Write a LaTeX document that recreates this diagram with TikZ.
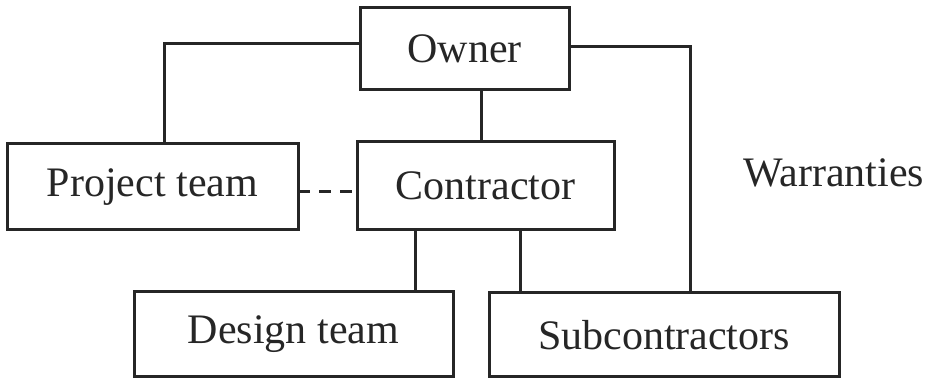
\documentclass[tikz,border=0pt]{standalone}
\usepackage{fontspec}
\setmainfont{Liberation Serif}
\begin{document}
\begin{tikzpicture}[x=1pt,y=-1pt,
  orgbox/.style={draw=black!85, line width=3pt, rectangle, inner sep=0pt, outer sep=0pt,
    font=\fontsize{42}{48}\selectfont, text=black!85},
  link/.style={draw=black!85, line width=3pt},
  dashlink/.style={link, dash pattern=on 12pt off 9pt}]
  \useasboundingbox (0,0) rectangle (935,379);

  \node[orgbox, minimum width=209pt, minimum height=82pt] (owner) at (464.5,49) {Owner};
  \node[orgbox, minimum width=291pt, minimum height=86pt] (pt) at (152.5,187) {Project team};
  \node[orgbox, minimum width=257pt, minimum height=88pt] (con) at (485.5,186) {Contractor};
  \node[orgbox, minimum width=319pt, minimum height=85pt] (des) at (293.5,334.5) {Design team};
  \node[orgbox, minimum width=350pt, minimum height=84pt] (sub) at (664,335) {Subcontractors};
  \node[anchor=base west, inner sep=0pt, font=\fontsize{42}{48}\selectfont, text=black!85]
    (war) at (743,187) {Warranties};

  % owner to project team and to subcontractors
  \draw[link] ([yshift=5pt]owner.west) -| ([xshift=11.5pt]pt.north);
  \draw[link] ([yshift=2pt]owner.east) -| ([xshift=26pt]sub.north);
  % owner to contractor
  \draw[link] ([xshift=17pt]owner.south) -- ([xshift=17pt]owner.south |- con.north);
  % contractor to project team (dashed)
  \draw[dashlink] ([yshift=-5pt]pt.east) -- ([yshift=-5pt]pt.east -| con.west);
  % contractor to design team and subcontractors
  \draw[link] (des.north -| 415,0) -- (con.south -| 415,0);
  \draw[link] (sub.north -| 520,0) -- (con.south -| 520,0);
\end{tikzpicture}
\end{document}
